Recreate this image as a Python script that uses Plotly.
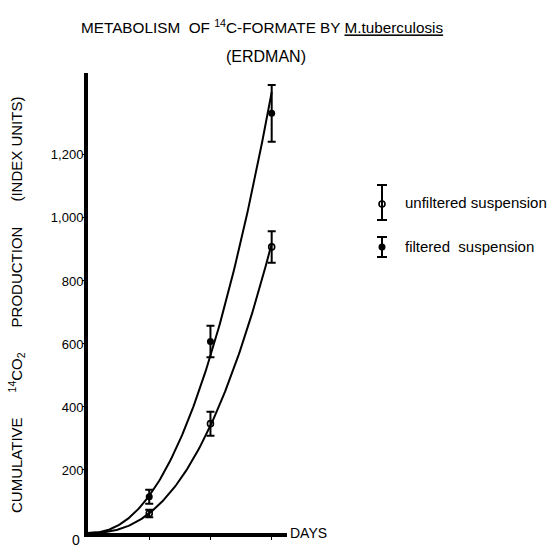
import numpy as np
import plotly.graph_objects as go

# ---- data ----
days = [1, 2, 3]
unfiltered = [62, 347, 908]
unfiltered_err = [12, 38, 50]
filtered = [115, 608, 1332]
filtered_err = [22, 50, 90]
y_ticks = [200, 400, 600, 800, 1000, 1200]
y_tick_labels = ["200", "400", "600", "800", "1,000", "1,200"]
x_ticks = [1, 2, 3]
x_tick_labels = ["1", "2", "3"]

FONT = "Liberation Sans, Arial, Helvetica, sans-serif"
W, H = 555, 545
NB = "\u00a0"


def power_fit(x, y):
    p, logk = np.polyfit(np.log(x), np.log(y), 1)
    xs = np.linspace(0, max(x), 151)
    return xs, np.exp(logk) * xs ** p


def px(xp):
    return xp / W


def py(yp):
    return (H - yp) / H


fig = go.Figure()

for vals in (filtered, unfiltered):
    xs, ys = power_fit(np.array(days, float), np.array(vals, float))
    fig.add_trace(go.Scatter(x=xs, y=ys, mode="lines",
                             line=dict(color="black", width=2),
                             showlegend=False, hoverinfo="skip"))

fig.add_trace(go.Scatter(
    x=days, y=unfiltered, mode="markers", showlegend=False,
    marker=dict(symbol="circle-open", size=6, color="black",
                line=dict(width=1.6, color="black")),
    error_y=dict(type="data", array=unfiltered_err, color="black",
                 thickness=2, width=4)))
fig.add_trace(go.Scatter(
    x=days, y=filtered, mode="markers", showlegend=False,
    marker=dict(symbol="circle", size=7, color="black"),
    error_y=dict(type="data", array=filtered_err, color="black",
                 thickness=2, width=4)))

# legend key glyphs (inset axis in pixel units)
fig.add_trace(go.Scatter(
    x=[382], y=[204], xaxis="x2", yaxis="y2", mode="markers",
    showlegend=False,
    marker=dict(symbol="circle-open", size=6, color="black",
                line=dict(width=1.6, color="black")),
    error_y=dict(type="data", array=[16], arrayminus=[19], symmetric=False,
                 color="black", thickness=2, width=5)))
fig.add_trace(go.Scatter(
    x=[382], y=[247], xaxis="x2", yaxis="y2", mode="markers",
    showlegend=False,
    marker=dict(symbol="circle", size=7, color="black"),
    error_y=dict(type="data", array=[10], arrayminus=[10], symmetric=False,
                 color="black", thickness=2, width=5)))

x0, x1 = 88, 287
y0, y1 = 533, 73

fig.update_layout(
    width=W, height=H,
    margin=dict(l=0, r=0, t=0, b=0, autoexpand=False),
    paper_bgcolor="white", plot_bgcolor="white",
    font=dict(family=FONT, color="black", size=13),
    showlegend=False,
    xaxis=dict(domain=[px(x0), px(x1)], range=[0, 3.25],
               showgrid=False, zeroline=False,
               showline=True, linewidth=4, linecolor="black",
               tickmode="array", tickvals=x_ticks, ticktext=x_tick_labels,
               ticks="outside", ticklen=3, tickwidth=1, tickcolor="black",
               tickfont=dict(size=14), anchor="y", automargin=False),
    yaxis=dict(domain=[py(y0), py(y1)], range=[0, 1460],
               showgrid=False, zeroline=False,
               showline=True, linewidth=4, linecolor="black",
               tickmode="array", tickvals=y_ticks, ticktext=y_tick_labels,
               ticks="outside", ticklen=2, tickwidth=1, tickcolor="black",
               ticklabelstandoff=-4,
               tickfont=dict(size=13), anchor="x", automargin=False),
    xaxis2=dict(domain=[px(370), px(395)], range=[370, 395], visible=False,
                anchor="y2"),
    yaxis2=dict(domain=[py(270), py(180)], range=[270, 180], visible=False,
                anchor="x2"),
)

sp = NB * 6
ann = [
    dict(text="METABOLISM" + NB * 2 + "OF <sup>14</sup>C-FORMATE BY "
              "<span style='text-decoration:underline'>M.tuberculosis</span>",
         x=px(262), y=py(26), font=dict(size=15.3)),
    dict(text="(ERDMAN)", x=px(266), y=py(56), font=dict(size=16)),
    dict(text="CUMULATIVE" + sp + "<sup>14</sup>CO<sub>2</sub>" + sp
              + "PRODUCTION" + sp + "(INDEX UNITS)",
         x=px(16), y=py(305), textangle=-90, font=dict(size=15)),
    dict(text="DAYS", x=px(288), y=py(533), xanchor="left", font=dict(size=14)),
    dict(text="0", x=px(76), y=py(540), font=dict(size=14)),
    dict(text="unfiltered" + NB + "suspension", x=px(403), y=py(203),
         xanchor="left", font=dict(size=15)),
    dict(text="filtered" + NB * 2 + "suspension", x=px(403), y=py(246),
         xanchor="left", font=dict(size=15)),
]
for a in ann:
    a.setdefault("xanchor", "center")
    a.setdefault("yanchor", "middle")
    fig.add_annotation(xref="paper", yref="paper", showarrow=False, **a)

fig.write_html("out.html")
